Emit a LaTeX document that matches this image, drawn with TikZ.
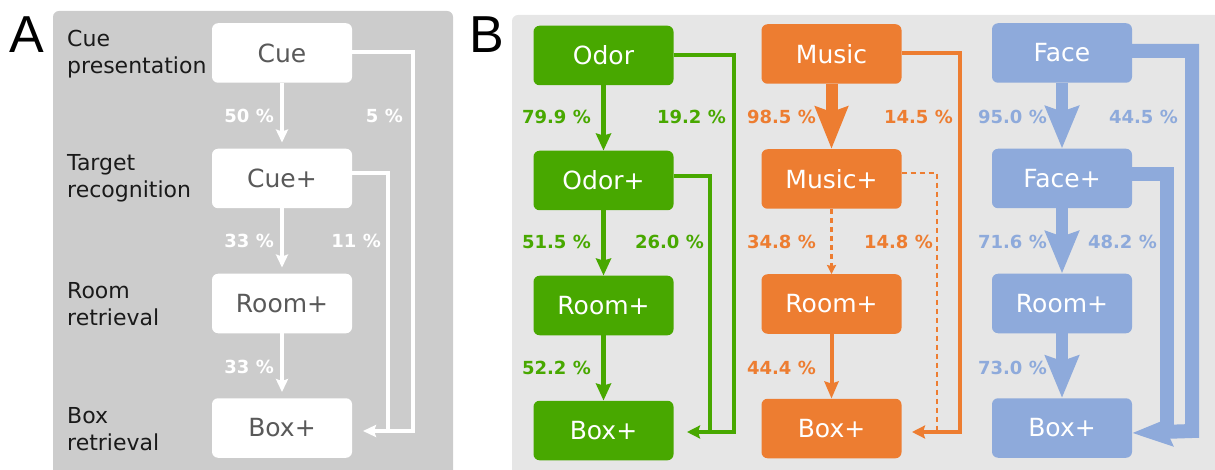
\documentclass[tikz,border=0pt]{standalone}
\usepackage{fontspec}
\setmainfont{DejaVu Sans}
\newfontfamily\panelfont{Liberation Sans}
\usetikzlibrary{arrows.meta}
\definecolor{bgA}{HTML}{CCCCCC}
\definecolor{bgB}{HTML}{E6E6E6}
\definecolor{grn}{HTML}{48A800}
\definecolor{org}{HTML}{ED7D31}
\definecolor{blu}{HTML}{8EAADB}
\definecolor{txtA}{HTML}{595959}
\definecolor{lblA}{HTML}{1A1A1A}
\begin{document}
\begin{tikzpicture}[x=1pt,y=-1pt,
  box/.style={rounded corners=6pt, minimum width=140pt, minimum height=59.5pt, inner sep=0pt, font=\fontsize{25}{30}\selectfont},
  boxA/.style={box, fill=white, text=txtA},
  boxG/.style={box, fill=grn, text=white},
  boxO/.style={box, fill=org, text=white},
  boxB/.style={box, fill=blu, text=white},
  pct/.style={anchor=base east, inner sep=0pt, font=\bfseries\fontsize{18}{20}\selectfont},
  sidelbl/.style={anchor=base west, align=left, inner sep=0pt, text=lblA, font=\fontsize{22}{27}\selectfont},
  panellbl/.style={anchor=base west, inner sep=0pt, font=\panelfont\fontsize{52}{60}\selectfont},
  warr/.style={draw=white, line width=3.5pt, shorten >=6pt, -{Stealth[width=12pt,length=13pt,inset=2pt]}},
  wskip/.style={draw=white, line width=3.5pt, -{Stealth[width=12pt,length=13pt,inset=2pt]}},
  wline/.style={draw=white, line width=3.5pt},
  garr/.style={draw=grn, line width=4.5pt, -{Stealth[width=15pt,length=17pt,inset=2pt]}},
  gskip/.style={draw=grn, line width=4pt, -{Stealth[width=13pt,length=13pt,inset=2pt]}},
  gline/.style={draw=grn, line width=4pt},
  othick/.style={draw=org, line width=12pt, -{Stealth[width=32pt,length=42pt,inset=5pt]}},
  odash/.style={draw=org, line width=2.5pt, dash pattern=on 5pt off 4pt, -{Stealth[width=9pt,length=9pt,inset=1pt]}},
  odline/.style={draw=org, line width=2.5pt, dash pattern=on 5pt off 4pt},
  oarr/.style={draw=org, line width=4pt, -{Stealth[width=14pt,length=17pt,inset=2pt]}},
  oskip/.style={draw=org, line width=4pt, -{Stealth[width=13pt,length=13pt,inset=2pt]}},
  bthick/.style={draw=blu, line width=12pt, -{Stealth[width=33pt,length=42pt,inset=5pt]}},
  bskip/.style={draw=blu, line width=14pt, -{Stealth[width=28pt,length=40pt,inset=5pt]}},
  bline/.style={draw=blu, line width=14pt}
]
\useasboundingbox (0,0) rectangle (1215,470);
\clip (0,0) rectangle (1215,470);
% backgrounds
\fill[bgA, rounded corners=6pt] (53,11) rectangle (453,490);
\fill[bgB, rounded corners=6pt] (512,15) rectangle (1240,490);
% panel labels
\node[panellbl] (lA) at (9,53) {A};
\node[panellbl] (lB) at (469,53) {B};
% side labels (base anchor = last line baseline)
\node[sidelbl] (s1) at (67,74) {Cue\\presentation};
\node[sidelbl] (s2) at (67,198) {Target\\recognition};
\node[sidelbl] (s3) at (67,325) {Room\\retrieval};
\node[sidelbl] (s4) at (67,450) {Box\\retrieval};
% Panel A boxes
\node[boxA] (cue) at (282,53) {Cue};
\node[boxA] (cuep) at (282,178.5) {Cue+};
\node[boxA] (roomA) at (282,303.5) {Room+};
\node[boxA] (boxAA) at (282,428) {Box+};
\draw[warr] (cue) -- (cuep);
\draw[warr] (cuep) -- (roomA);
\draw[warr] (roomA) -- (boxAA);
\coordinate (ac1) at (413,431);
\coordinate (at) at (363,431);
\coordinate (ac2) at (388,431);
\draw[wline] ([yshift=5.5pt]cuep.east) -| (ac2);
\draw[wskip] ([yshift=1pt]cue.east) -| (ac1) -- (at);
\node[pct, text=white] (pa1) at (274,123) {50 \%};
\node[pct, text=white] (pa2) at (403,123) {5 \%};
\node[pct, text=white] (pa3) at (274,248) {33 \%};
\node[pct, text=white] (pa4) at (381,248) {11 \%};
\node[pct, text=white] (pa5) at (274,373) {33 \%};
% Green
\node[boxG] (odor) at (603.5,55.5) {Odor};
\node[boxG] (odorp) at (603.5,180.5) {Odor+};
\node[boxG] (roomG) at (603.5,305.5) {Room+};
\node[boxG] (boxG1) at (603.5,430.5) {Box+};
\draw[garr] (odor) -- (odorp);
\draw[garr] (odorp) -- (roomG);
\draw[garr] (roomG) -- (boxG1);
\coordinate (gc1) at (734,432);
\coordinate (gc2) at (710,432);
\coordinate (gt) at (687,432);
\draw[gline] ([yshift=4.5pt]odorp.east) -| (gc2);
\draw[gskip] (odor.east) -| (gc1) -- (gt);
\node[pct, text=grn] (pg1) at (591,124) {79.9 \%};
\node[pct, text=grn] (pg2) at (726,124) {19.2 \%};
\node[pct, text=grn] (pg3) at (591,249) {51.5 \%};
\node[pct, text=grn] (pg4) at (704,249) {26.0 \%};
\node[pct, text=grn] (pg5) at (591,374) {52.2 \%};
% Orange
\node[boxO] (music) at (831.5,54) {Music};
\node[boxO] (musicp) at (831.5,179) {Music+};
\node[boxO] (roomO) at (831.5,304) {Room+};
\node[boxO] (boxO1) at (831.5,428.5) {Box+};
\draw[othick] (music) -- (musicp);
\draw[odash] (musicp) -- (roomO);
\draw[oarr] (roomO) -- (boxO1);
\coordinate (oc1) at (960,432);
\coordinate (oc2) at (937,432);
\coordinate (ot) at (912,432);
\draw[odline] ([yshift=6pt]musicp.east) -| (oc2);
\draw[oskip] ([yshift=1pt]music.east) -| (oc1) -- (ot);
\node[pct, text=org] (po1) at (816,124) {98.5 \%};
\node[pct, text=org] (po2) at (953,124) {14.5 \%};
\node[pct, text=org] (po3) at (816,249) {34.8 \%};
\node[pct, text=org] (po4) at (933,249) {14.8 \%};
\node[pct, text=org] (po5) at (816,374) {44.4 \%};
% Blue
\node[boxB] (face) at (1062,53) {Face};
\node[boxB] (facep) at (1062,178.5) {Face+};
\node[boxB] (roomB) at (1062,303.5) {Room+};
\node[boxB] (boxB1) at (1062,428) {Box+};
\draw[bthick] (face) -- (facep);
\draw[bthick] (facep) -- (roomB);
\draw[bthick] (roomB) -- (boxB1);
\coordinate (bc1) at (1192,431);
\coordinate (bc2) at (1167,431);
\coordinate (bt) at (1132,433);
\draw[bline] ([yshift=4.5pt]facep.east) -| (bc2);
\draw[bskip] ([yshift=2pt]face.east) -| (bc1) -- (bt);
\node[pct, text=blu] (pb1) at (1047,124) {95.0 \%};
\node[pct, text=blu] (pb2) at (1178,124) {44.5 \%};
\node[pct, text=blu] (pb3) at (1047,249) {71.6 \%};
\node[pct, text=blu] (pb4) at (1157,249) {48.2 \%};
\node[pct, text=blu] (pb5) at (1047,374) {73.0 \%};
\end{tikzpicture}
\end{document}
